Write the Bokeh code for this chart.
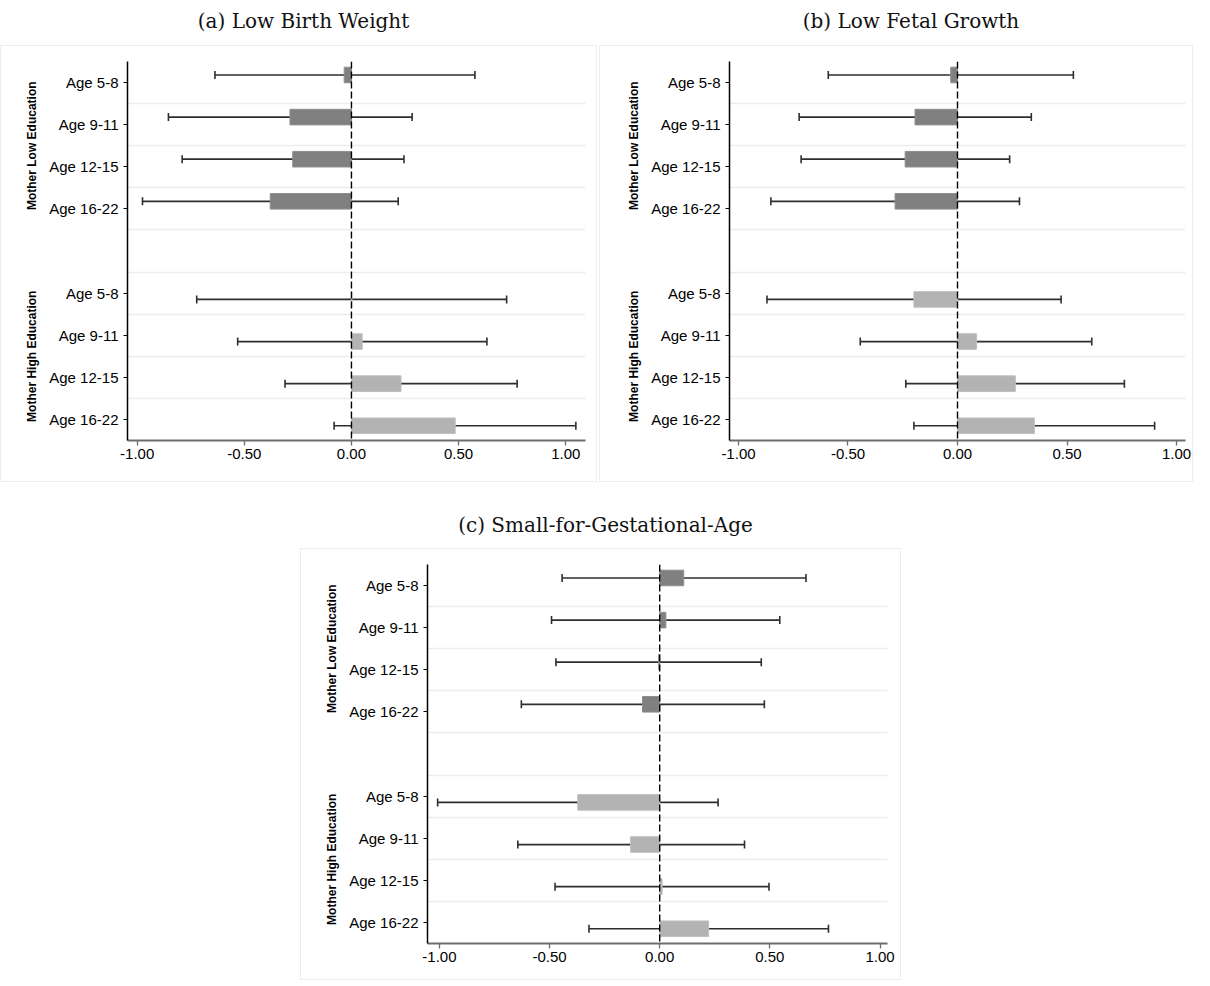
import numpy as np
from bokeh.plotting import figure
from bokeh.models import (Range1d, FixedTicker, Whisker, TeeHead, Span, LinearAxis,
                          ColumnDataSource, Div, Spacer, NumeralTickFormatter)
from bokeh.layouts import column, row
from bokeh.embed import file_html
from bokeh.resources import INLINE

# ---------------- data ----------------
ages = ["Age 5-8", "Age 9-11", "Age 12-15", "Age 16-22"]
groups = ["Mother Low Education", "Mother High Education"]
titles = ["(a) Low Birth Weight", "(b) Low Fetal Growth", "(c) Small-for-Gestational-Age"]
x_ticks = [-1.0, -0.5, 0.0, 0.5, 1.0]

# (a) Low Birth Weight
a_low_est = [-0.034, -0.287, -0.274, -0.379]
a_low_lo = [-0.637, -0.854, -0.790, -0.975]
a_low_hi = [0.576, 0.283, 0.245, 0.218]
a_high_est = [0.002, 0.050, 0.231, 0.484]
a_high_lo = [-0.722, -0.531, -0.310, -0.081]
a_high_hi = [0.724, 0.632, 0.773, 1.047]

# (b) Low Fetal Growth
b_low_est = [-0.031, -0.194, -0.239, -0.285]
b_low_lo = [-0.590, -0.723, -0.714, -0.852]
b_low_hi = [0.529, 0.337, 0.238, 0.283]
b_high_est = [-0.199, 0.087, 0.264, 0.351]
b_high_lo = [-0.870, -0.444, -0.236, -0.199]
b_high_hi = [0.473, 0.613, 0.762, 0.900]

# (c) Small-for-Gestational-Age
c_low_est = [0.109, 0.028, -0.005, -0.078]
c_low_lo = [-0.443, -0.491, -0.471, -0.628]
c_low_hi = [0.664, 0.545, 0.461, 0.475]
c_high_est = [-0.372, -0.132, 0.011, 0.222]
c_high_lo = [-1.008, -0.644, -0.475, -0.321]
c_high_hi = [0.265, 0.385, 0.496, 0.766]

# ---------------- style ----------------
FONT = "Liberation Sans"
LOW_FILL, LOW_LINE = "#808080", "#8e8e8e"
HIGH_FILL, HIGH_LINE = "#b3b3b3", "#bebebe"
ERR_COLOR = "#2e2e2e"
BOX_BORDER = "1px solid #e9eef1"

low_rows = np.arange(4)
high_rows = np.arange(5, 9)
group_rows = [1.5, 6.5]
LOW_OFF, HIGH_OFF = -0.18, 0.15


def make_panel(low_est, low_lo, low_hi, high_est, high_lo, high_hi,
               xr, width, height, bl, br, bt, bb):
    p = figure(width=width, height=height, output_backend="svg",
               toolbar_location=None, x_range=Range1d(*xr),
               y_range=Range1d(8.5, -0.5),
               min_border_left=bl, min_border_right=br,
               min_border_top=bt, min_border_bottom=bb)
    p.outline_line_color = None
    p.background_fill_color = "white"
    p.border_fill_color = "white"
    p.styles = {"border": BOX_BORDER}

    # grid
    p.xgrid.visible = False
    p.ygrid.ticker = FixedTicker(ticks=[0.5, 1.5, 2.5, 3.5, 4.5, 5.5, 6.5, 7.5])
    p.ygrid.grid_line_color = "#e7edf1"
    p.ygrid.grid_line_width = 1.5

    # bars
    for rows, off, est, lo, hi, fc, lc in [
        (low_rows, LOW_OFF, low_est, low_lo, low_hi, LOW_FILL, LOW_LINE),
        (high_rows, HIGH_OFF, high_est, high_lo, high_hi, HIGH_FILL, HIGH_LINE),
    ]:
        src = ColumnDataSource(dict(y=rows + off, est=est, lo=lo, hi=hi))
        p.hbar(y="y", left=0, right="est", height=0.37, source=src,
               fill_color=fc, line_color=lc, line_width=1)
        w = Whisker(base="y", lower="lo", upper="hi", dimension="width",
                    source=src, line_color=ERR_COLOR, line_width=1.7,
                    upper_head=TeeHead(size=8, line_color=ERR_COLOR, line_width=1.6),
                    lower_head=TeeHead(size=8, line_color=ERR_COLOR, line_width=1.6))
        p.add_layout(w)

    p.add_layout(Span(location=0, dimension="height", line_color="black",
                      line_width=1.4, line_dash="7 3"))

    # x axis
    xa = p.xaxis[0]
    xa.ticker = FixedTicker(ticks=x_ticks)
    xa.formatter = NumeralTickFormatter(format="0.00")
    xa.axis_line_color = "#6e6e6e"
    xa.axis_line_width = 2
    xa.major_tick_line_color = "#6e6e6e"
    xa.major_tick_line_width = 1.3
    xa.major_tick_out = 5
    xa.major_tick_in = 0
    xa.minor_tick_line_color = None
    xa.major_label_text_font = FONT
    xa.major_label_text_font_size = "15px"
    xa.major_label_text_color = "#000000"
    xa.major_label_standoff = 3

    # y axis
    ya = p.yaxis[0]
    ticks = list(low_rows) + list(high_rows)
    ya.ticker = FixedTicker(ticks=[int(t) for t in ticks])
    ya.major_label_overrides = {int(t): ages[i % 4] for i, t in enumerate(ticks)}
    ya.axis_line_color = "black"
    ya.axis_line_width = 1.5
    ya.major_tick_line_color = "black"
    ya.major_tick_line_width = 1
    ya.major_tick_out = 4
    ya.major_tick_in = 0
    ya.minor_tick_line_color = None
    ya.major_label_text_font = FONT
    ya.major_label_text_font_size = "15px"
    ya.major_label_text_color = "#000000"
    ya.major_label_standoff = 5

    # group labels as an extra (invisible) left axis
    ga = LinearAxis(ticker=FixedTicker(ticks=group_rows),
                    major_label_overrides={g: t for g, t in zip(group_rows, groups)},
                    major_label_orientation="vertical")
    ga.axis_line_color = None
    ga.major_tick_line_color = None
    ga.minor_tick_line_color = None
    ga.major_label_text_font = FONT
    ga.major_label_text_font_style = "bold"
    ga.major_label_text_font_size = "12px"
    ga.major_label_text_color = "#000000"
    ga.major_label_standoff = 1
    p.add_layout(ga, "left")
    return p


def title_div(text, width, height, pad):
    return Div(text=text, width=width, height=height,
               styles={"text-align": "center", "font-family": "DejaVu Serif",
                       "font-size": "20px", "color": "#111111",
                       "padding-top": f"{pad}px", "box-sizing": "border-box"})


pa = make_panel(a_low_est, a_low_lo, a_low_hi, a_high_est, a_high_lo, a_high_hi,
                (-1.045, 1.092), 597, 437, 126, 13, 15, 43)
pb = make_panel(b_low_est, b_low_lo, b_low_hi, b_high_est, b_high_lo, b_high_hi,
                (-1.041, 1.041), 594, 437, 129, 9, 15, 43)
pc = make_panel(c_low_est, c_low_lo, c_low_hi, c_high_est, c_high_lo, c_high_hi,
                (-1.054, 1.034), 601, 432, 126, 15, 15, 38)

layout = column(
    row(title_div(titles[0], 597, 35, 2), Spacer(width=2), title_div(titles[1], 594, 35, 2)),
    row(pa, Spacer(width=2), pb),
    row(Spacer(width=300), title_div(titles[2], 601, 56, 24)),
    row(Spacer(width=300), pc),
)

open("out.html", "w").write(file_html(layout, INLINE))
